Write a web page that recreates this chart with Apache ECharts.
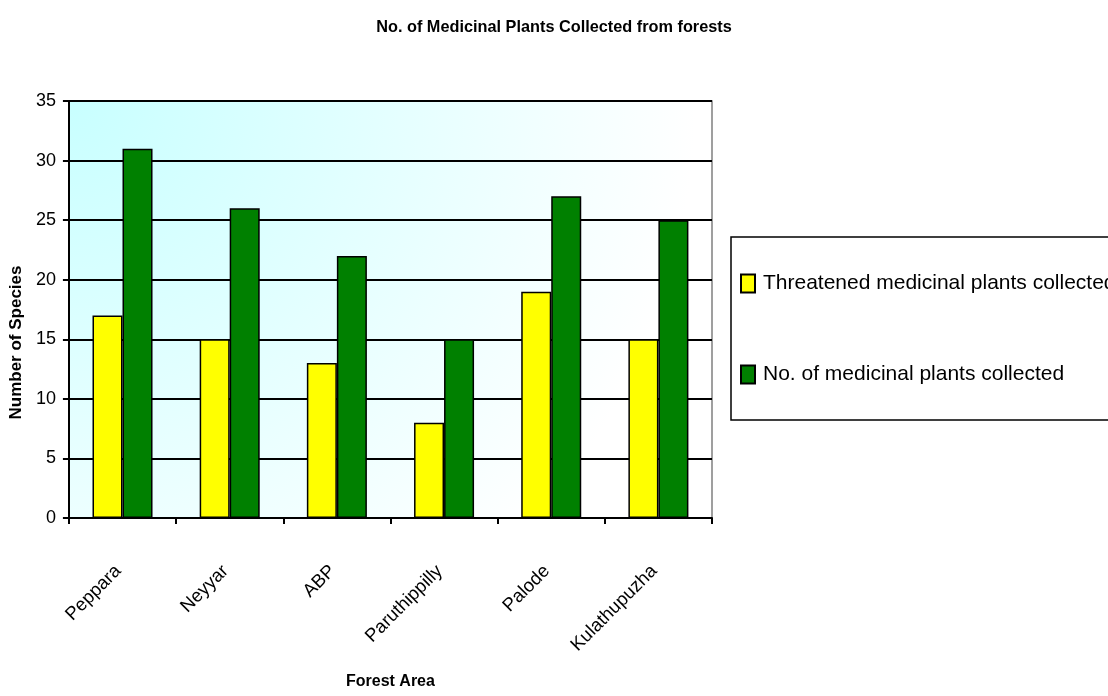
<!DOCTYPE html>
<html>
<head>
<meta charset="utf-8">
<script src="https://cdn.jsdelivr.net/npm/echarts@6/dist/echarts.min.js"></script>
<style>
  html, body { margin: 0; padding: 0; background: #ffffff; }
  #chart { width: 1108px; height: 696px; }
</style>
</head>
<body>
<div id="chart"></div>
<script>
// Forest areas surveyed
const forestAreas = ['Peppara', 'Neyyar', 'ABP', 'Paruthippilly', 'Palode', 'Kulathupuzha'];
// Threatened species found in each area
const threatenedCollected = [17, 15, 13, 8, 19, 15];
// All medicinal species found in each area
const totalCollected = [31, 26, 22, 15, 27, 25];
// Value axis ticks
const yTicks = [0, 5, 10, 15, 20, 25, 30, 35];

const font = "'Liberation Sans', Arial, sans-serif";

const chart = echarts.init(document.getElementById('chart'), null, { renderer: 'canvas' });

chart.setOption({
  animation: false,
  backgroundColor: '#ffffff',
  title: {
    text: 'No. of Medicinal Plants Collected from forests',
    left: 'center',
    top: 15,
    textStyle: { fontFamily: font, fontWeight: 'bold', fontSize: 16.3, color: '#000000' }
  },
  legend: {
    orient: 'vertical',
    left: 731,
    top: 237,
    padding: [36, 400, 35, 9],
    itemGap: 70,
    itemWidth: 14,
    itemHeight: 18,
    icon: 'rect',
    borderColor: '#000000',
    borderWidth: 1.5,
    backgroundColor: '#ffffff',
    textStyle: { fontFamily: font, fontSize: 21, color: '#000000', lineHeight: 20, padding: [0, 0, 0, 3] },
    data: ['Threatened medicinal plants collected', 'No. of medicinal plants collected']
  },
  grid: {
    left: 67,
    right: 396,
    top: 101,
    bottom: 178,
    show: true,
    borderColor: '#808080',
    borderWidth: 1.5,
    backgroundColor: new echarts.graphic.RadialGradient(0, 0, 1.5, [
      { offset: 0, color: '#c8ffff' },
      { offset: 1, color: '#ffffff' }
    ])
  },
  xAxis: {
    type: 'category',
    data: forestAreas,
    name: 'Forest Area',
    nameLocation: 'middle',
    nameGap: 156,
    nameTextStyle: { fontFamily: font, fontWeight: 'bold', fontSize: 16, color: '#000000', verticalAlign: 'top' },
    axisLine: { lineStyle: { color: '#000000', width: 2 } },
    axisTick: { show: true, length: 6, lineStyle: { color: '#000000', width: 2 } },
    axisLabel: { interval: 0, rotate: 45, margin: 46, fontFamily: font, fontSize: 18.5, color: '#000000', padding: [0, 6, 4, 0] },
    splitLine: { show: false }
  },
  yAxis: {
    type: 'value',
    min: yTicks[0],
    max: yTicks[yTicks.length - 1],
    interval: yTicks[1] - yTicks[0],
    name: 'Number of Species',
    nameLocation: 'middle',
    nameGap: 40,
    nameTextStyle: { fontFamily: font, fontWeight: 'bold', fontSize: 17, color: '#000000', padding: [0, 66, 0, 0] },
    axisLine: { show: true, lineStyle: { color: '#000000', width: 2 } },
    axisTick: { show: true, length: 6, lineStyle: { color: '#000000', width: 2 } },
    axisLabel: { margin: 13, fontFamily: font, fontSize: 18, color: '#000000' },
    splitLine: { show: true, lineStyle: { color: '#000000', width: 2 } }
  },
  series: [
    {
      name: 'Threatened medicinal plants collected',
      type: 'bar',
      data: threatenedCollected,
      barGap: '0%',
      barCategoryGap: '44%',
      itemStyle: { color: '#ffff00', borderColor: '#000000', borderWidth: 1.5 }
    },
    {
      name: 'No. of medicinal plants collected',
      type: 'bar',
      data: totalCollected,
      barGap: '0%',
      barCategoryGap: '44%',
      itemStyle: { color: '#008000', borderColor: '#000000', borderWidth: 1.5 }
    }
  ]
});
</script>
</body>
</html>
